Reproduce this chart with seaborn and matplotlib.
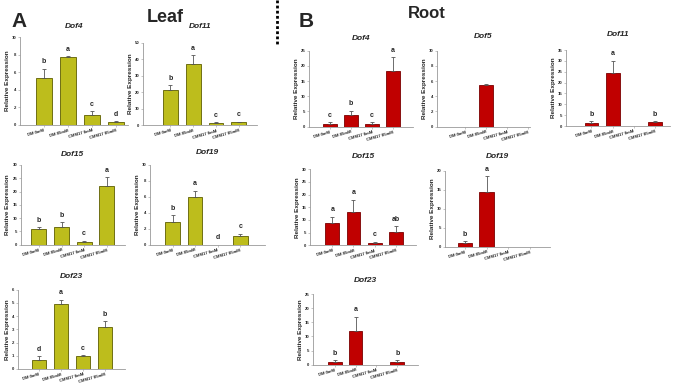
import numpy as np
import pandas as pd
import seaborn as sns
import matplotlib.pyplot as plt
from matplotlib.lines import Line2D

# treatments shown on every x axis
treatments = ["DM 0mM", "DM 85mM", "CMM17 0mM", "CMM17 85mM"]

# Leaf (panel A)
leaf_dof4 = [5.4, 7.75, 1.1, 0.3]
leaf_dof4_err = [1.0, 0.07, 0.45, 0.15]
leaf_dof4_sig = ["b", "a", "c", "d"]

leaf_dof11 = [21.2, 37.1, 1.4, 1.8]
leaf_dof11_err = [3.0, 5.4, 0.4, 0.5]
leaf_dof11_sig = ["b", "a", "c", "c"]

leaf_dof15 = [5.8, 6.8, 1.0, 22.0]
leaf_dof15_err = [0.7, 1.6, 0.5, 3.3]
leaf_dof15_sig = ["b", "b", "c", "a"]

leaf_dof19 = [2.9, 6.0, 0.0, 1.1]
leaf_dof19_err = [0.8, 0.75, 0.0, 0.3]
leaf_dof19_sig = ["b", "a", "d", "c"]

leaf_dof23 = [0.68, 4.95, 1.0, 3.2]
leaf_dof23_err = [0.28, 0.28, 0.05, 0.43]
leaf_dof23_sig = ["d", "a", "c", "b"]

# Root (panel B)
root_dof4 = [0.9, 3.8, 1.0, 18.2]
root_dof4_err = [0.6, 1.5, 0.5, 4.6]
root_dof4_sig = ["c", "b", "c", "a"]

root_dof5 = [0.0, 5.5, 0.0, 0.0]
root_dof5_err = [0.0, 0.1, 0.0, 0.0]
root_dof5_sig = ["", "", "", ""]

root_dof11 = [1.5, 24.3, 0.0, 1.8]
root_dof11_err = [0.6, 5.7, 0.0, 0.4]
root_dof11_sig = ["b", "a", "", "b"]

root_dof15 = [8.9, 13.2, 1.05, 5.3]
root_dof15_err = [2.4, 4.7, 0.3, 2.3]
root_dof15_sig = ["a", "a", "c", "ab"]

root_dof19 = [1.0, 14.3, 0.0, 0.0]
root_dof19_err = [0.4, 4.2, 0.0, 0.0]
root_dof19_sig = ["b", "a", "", ""]

root_dof23 = [1.0, 12.0, 0.0, 1.0]
root_dof23_err = [0.5, 5.0, 0.0, 0.5]
root_dof23_sig = ["b", "a", "", "b"]

LEAF = ("#bdbd1c", "#5e5e00")
ROOT = ("#c00000", "#7a0000")

W, H = 677, 383

sns.set_style("ticks")
plt.rcParams["font.family"] = ["Liberation Sans", "DejaVu Sans"]

fig = plt.figure(figsize=(W / 100, H / 100), dpi=100)

# gene, values, errors, letters, ymax, step, colours,
# axes box in pixels (left, right, top, bottom), xlim, title y (px)
panels = [
    ("Dof4", leaf_dof4, leaf_dof4_err, leaf_dof4_sig, 10, 2, LEAF,
     (20, 128, 37.3, 125), (-1.0, 3.5), 27),
    ("Dof11", leaf_dof11, leaf_dof11_err, leaf_dof11_sig, 50, 10, LEAF,
     (143, 257, 42.7, 125.3), (-1.2, 3.8), 27),
    ("Dof15", leaf_dof15, leaf_dof15_err, leaf_dof15_sig, 30, 5, LEAF,
     (20.7, 125, 165, 244.7), (-0.8, 3.8), 155),
    ("Dof19", leaf_dof19, leaf_dof19_err, leaf_dof19_sig, 10, 2, LEAF,
     (150, 265, 165, 244.7), (-1.0, 4.1), 153),
    ("Dof23", leaf_dof23, leaf_dof23_err, leaf_dof23_sig, 6, 1, LEAF,
     (18, 125, 289.7, 369), (-0.95, 3.9), 276),
    ("Dof4", root_dof4, root_dof4_err, root_dof4_sig, 25, 5, ROOT,
     (309, 413, 50.7, 126.7), (-1.0, 3.95), 38),
    ("Dof5", root_dof5, root_dof5_err, root_dof5_sig, 10, 2, ROOT,
     (437, 530, 50.7, 126.7), (-1.35, 3.1), 37),
    ("Dof11", root_dof11, root_dof11_err, root_dof11_sig, 35, 5, ROOT,
     (566, 670, 50, 126), (-1.2, 3.7), 35),
    ("Dof15", root_dof15, root_dof15_err, root_dof15_sig, 30, 5, ROOT,
     (310, 416, 169.3, 245.3), (-1.05, 3.95), 156),
    ("Dof19", root_dof19, root_dof19_err, root_dof19_sig, 20, 5, ROOT,
     (445, 550, 170.7, 246.7), (-0.9, 3.9), 157),
    ("Dof23", root_dof23, root_dof23_err, root_dof23_sig, 25, 5, ROOT,
     (313, 418, 294, 364.7), (-1.05, 4.0), 281),
]

for gene, vals, errs, sig, ymax, step, (fill, edge), box, xlim, ty in panels:
    x0, x1, top, bottom = box
    ax = fig.add_axes([x0 / W, 1 - bottom / H, (x1 - x0) / W, (bottom - top) / H])
    df = pd.DataFrame({"treatment": treatments, "expr": vals})
    sns.barplot(data=df, x="treatment", y="expr", ax=ax, color=fill,
                saturation=1, edgecolor=edge, linewidth=0.6, width=0.65,
                errorbar=None)

    # upper error bars only
    idx = [i for i, e in enumerate(errs) if e > 0]
    ax.errorbar(idx, [vals[i] for i in idx],
                yerr=[np.zeros(len(idx)), [errs[i] for i in idx]],
                fmt="none", ecolor="#555555", elinewidth=0.6,
                capsize=1.2, capthick=0.6)

    for i, s in enumerate(sig):
        if s:
            ax.annotate(s, (i, vals[i] + errs[i]), xytext=(0, 2.5),
                        textcoords="offset points", ha="center", va="bottom",
                        fontsize=5, fontweight="bold")

    ax.set_xlim(*xlim)
    ax.set_ylim(0, ymax)
    ax.set_yticks(np.arange(0, ymax + step / 2, step))
    ax.set_xlabel("")
    ax.set_ylabel("Relative Expression", fontsize=4.6, fontweight="bold",
                  labelpad=1.5)
    ax.tick_params(axis="both", length=1.5, width=0.4, color="#999999",
                   pad=1, labelsize=3.1)
    plt.setp(ax.get_xticklabels(), rotation=16, ha="right",
             rotation_mode="anchor", fontweight="bold")
    plt.setp(ax.get_yticklabels(), fontweight="bold")
    sns.despine(ax=ax)
    for side in ("left", "bottom"):
        ax.spines[side].set_color("#999999")
        ax.spines[side].set_linewidth(0.6)

    fig.text((x0 + x1) / 2 / W, 1 - ty / H, gene, ha="center", va="center",
             fontsize=6, fontweight="bold", fontstyle="italic")

# panel letters and tissue names
fig.text(19 / W, 1 - 21.5 / H, "A", fontsize=15, fontweight="bold",
         ha="center", va="center")
fig.text(165 / W, 1 - 17.5 / H, "Leaf", fontsize=13, fontweight="bold",
         ha="center", va="center")
fig.text(306 / W, 1 - 21.5 / H, "B", fontsize=15, fontweight="bold",
         ha="center", va="center")
fig.text(427 / W, 1 - 14 / H, "Root", fontsize=12, fontweight="bold",
         ha="center", va="center")

# dotted divider
fig.add_artist(Line2D([277 / W, 277 / W], [1, 1 - 45 / H], color="black",
                      lw=2, linestyle=(0, (1, 0.85))))

fig.savefig("out.png", dpi=100)
